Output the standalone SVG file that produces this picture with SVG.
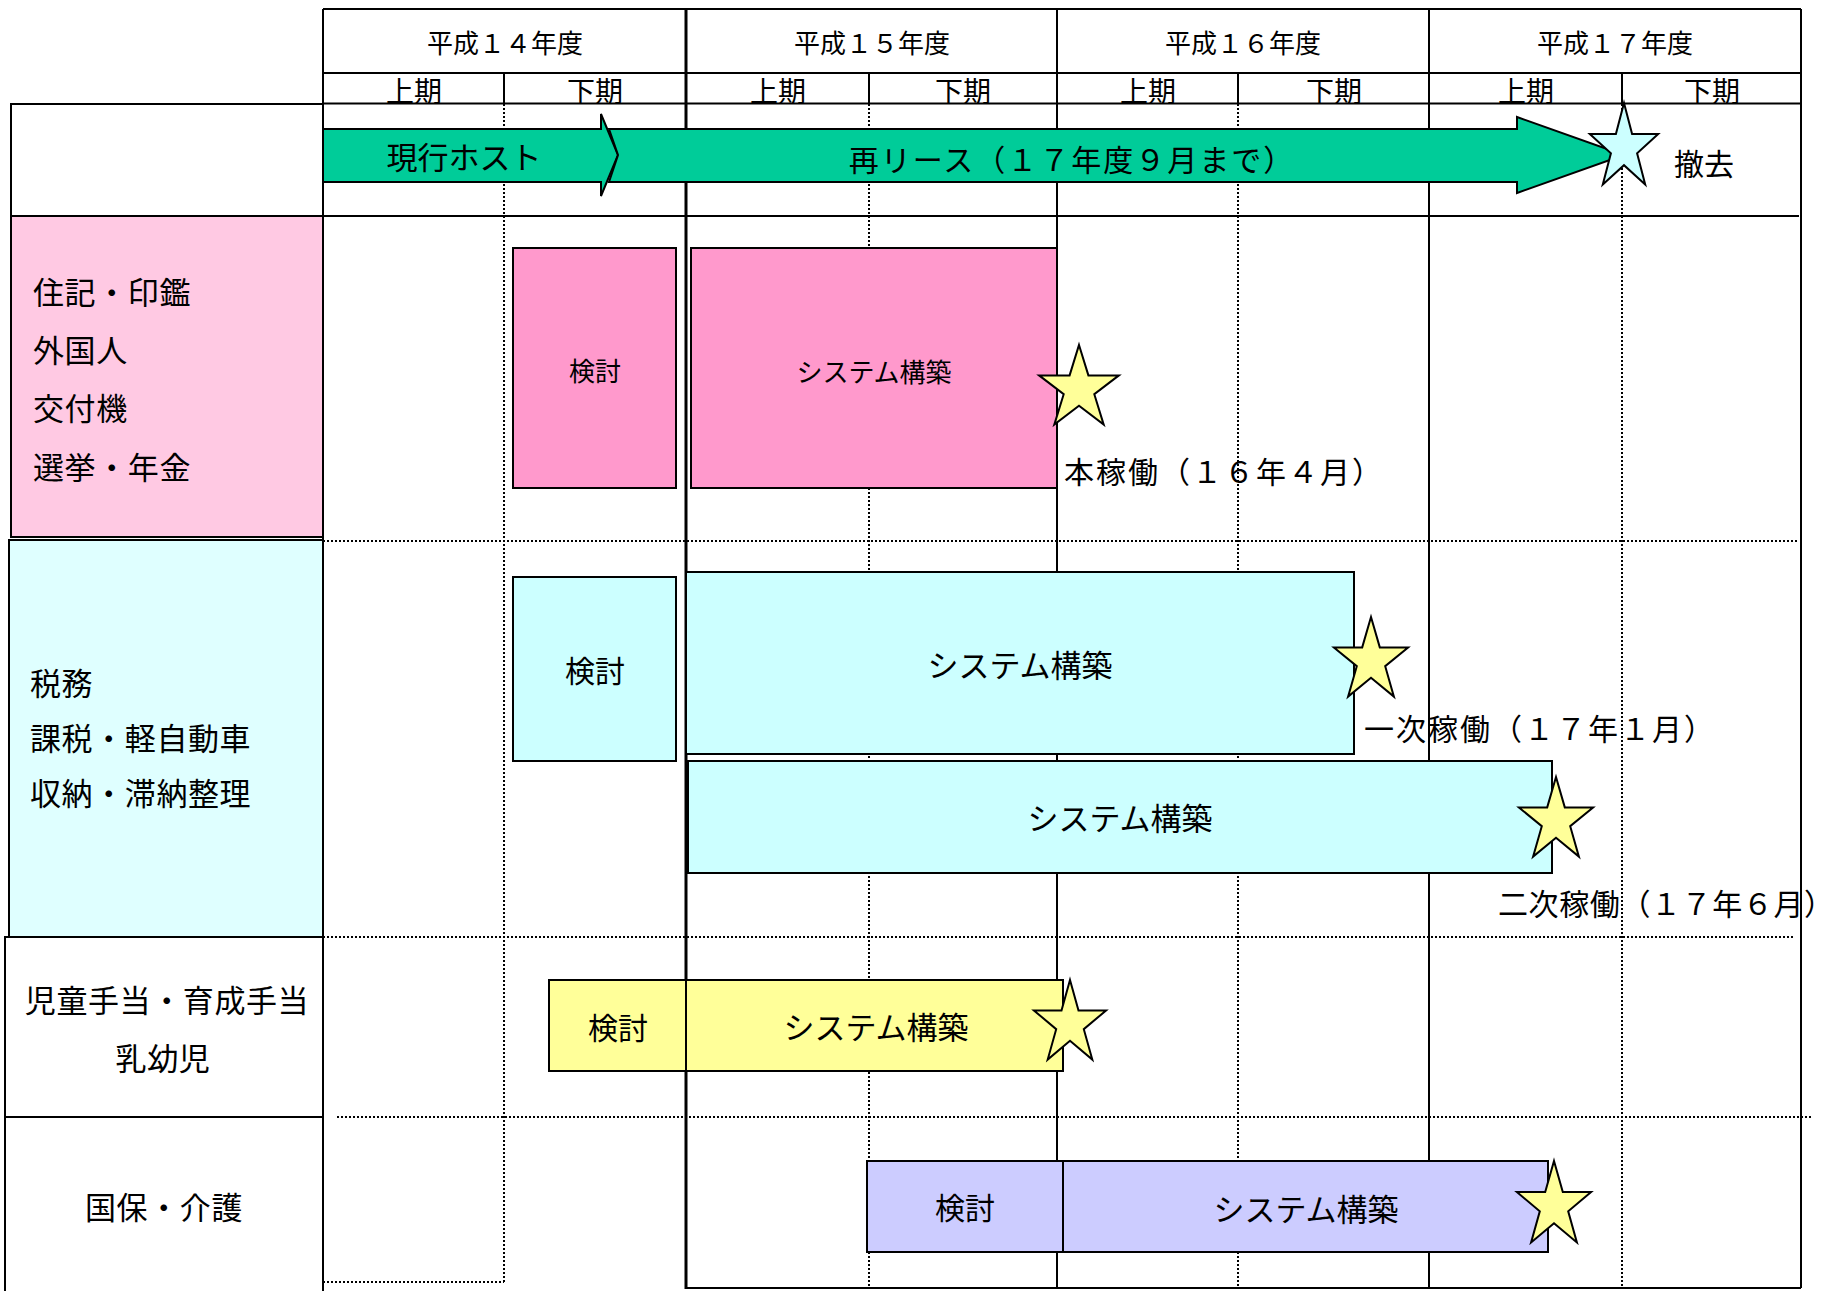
<svg xmlns="http://www.w3.org/2000/svg" width="1841" height="1291" viewBox="0 0 1841 1291">
<defs>
<style>
text{font-family:"Noto Sans CJK JP","Noto Sans CJK SC",sans-serif;fill:#000}
.s{stroke:#000;stroke-width:2;fill:none}
.d{stroke:#000;stroke-width:2;stroke-dasharray:2 2;fill:none}
.box{stroke:#000;stroke-width:2}
.star{stroke:#000;stroke-width:2;stroke-linejoin:miter}
.yr{font-size:26px;text-anchor:middle}
.hf{font-size:28px;text-anchor:middle}
.lb{font-size:31px;letter-spacing:0.6px}
.mid{text-anchor:middle}
.cap{font-size:30px;letter-spacing:2px}
</style>
<clipPath id="hclip"><rect x="323" y="73" width="1478" height="30"/></clipPath>
</defs>
<rect width="1841" height="1291" fill="#fff"/>

<g id="labels">
  <g id="label-host"><rect class="box" x="11" y="104" width="312" height="112" fill="#fff"/></g>
  <g id="label-juki">
    <rect class="box" x="11" y="216" width="312" height="321" fill="#FFC9E3"/>
    <text class="lb" x="33" y="304">住記・印鑑</text>
    <text class="lb" x="33" y="362">外国人</text>
    <text class="lb" x="33" y="420">交付機</text>
    <text class="lb" x="33" y="479">選挙・年金</text>
  </g>
  <g id="label-zeimu">
    <rect class="box" x="9" y="540" width="314" height="397" fill="#DFFFFF"/>
    <text class="lb" x="30" y="695">税務</text>
    <text class="lb" x="30" y="750">課税・軽自動車</text>
    <text class="lb" x="30" y="805">収納・滞納整理</text>
  </g>
  <g id="label-jido">
    <rect class="box" x="5" y="937" width="318" height="180" fill="#fff"/>
    <text class="lb mid" x="167" y="1012">児童手当・育成手当</text>
    <text class="lb mid" x="163" y="1070">乳幼児</text>
  </g>
  <g id="label-kokuho">
    <rect class="box" x="5" y="1117" width="318" height="180" fill="#fff"/>
    <text class="lb mid" x="164" y="1219">国保・介護</text>
  </g>
</g>

<g id="grid">
  <line class="s" x1="323" y1="9" x2="1801" y2="9"/>
  <line class="s" x1="323" y1="73" x2="1801" y2="73"/>
  <line class="s" x1="323" y1="9" x2="323" y2="1291"/>
  <line class="s" x1="1057" y1="9" x2="1057" y2="1288"/>
  <line class="s" x1="1429" y1="9" x2="1429" y2="1288"/>
  <line class="s" x1="1801" y1="9" x2="1801" y2="1288"/>
  <line class="s" x1="504" y1="73" x2="504" y2="104"/>
  <line class="s" x1="869" y1="73" x2="869" y2="104"/>
  <line class="s" x1="1238" y1="73" x2="1238" y2="104"/>
  <line class="s" x1="1622" y1="73" x2="1622" y2="104"/>
  <line class="d" x1="504" y1="104" x2="504" y2="1282"/>
  <line class="d" x1="869" y1="104" x2="869" y2="1288"/>
  <line class="d" x1="1238" y1="104" x2="1238" y2="1288"/>
  <line class="d" x1="1622" y1="104" x2="1622" y2="1288"/>
  <line class="d" x1="323" y1="1282" x2="504" y2="1282"/>
  <line class="s" x1="686" y1="1288" x2="1801" y2="1288"/>
  <line class="s" x1="11" y1="216" x2="1799" y2="216"/>
  <line class="d" x1="323" y1="541" x2="1797" y2="541"/>
  <line class="d" x1="323" y1="937" x2="1795" y2="937"/>
  <line class="d" x1="337" y1="1117" x2="1813" y2="1117"/>
  <line stroke="#000" stroke-width="3" x1="686" y1="9" x2="686" y2="1289"/>
</g>

<g id="header-text">
  <text class="yr" x="505" y="53">平成１４年度</text>
  <text class="yr" x="872" y="53">平成１５年度</text>
  <text class="yr" x="1243" y="53">平成１６年度</text>
  <text class="yr" x="1615" y="53">平成１７年度</text>
  <g clip-path="url(#hclip)">
    <text class="hf" x="414" y="102">上期</text>
    <text class="hf" x="595" y="102">下期</text>
    <text class="hf" x="778" y="102">上期</text>
    <text class="hf" x="963" y="102">下期</text>
    <text class="hf" x="1148" y="102">上期</text>
    <text class="hf" x="1334" y="102">下期</text>
    <text class="hf" x="1526" y="102">上期</text>
    <text class="hf" x="1712" y="102">下期</text>
  </g>
  <line class="s" x1="323" y1="103.5" x2="1801" y2="103.5"/>
  <line class="s" x1="11" y1="104" x2="323" y2="104"/>
</g>

<g id="connectors">
  <g id="arrow-host">
    <polygon points="323,129 601,129 601,114 618,155 601,196 601,182 323,182" fill="#00CC99" stroke="#000" stroke-width="2"/>
    <text x="464" y="169" font-size="31" text-anchor="middle">現行ホスト</text>
  </g>
  <g id="arrow-lease">
    <polygon points="609,129 1517,129 1517,117 1624,155 1517,193 1517,182 609,182 618,155" fill="#00CC99" stroke="#000" stroke-width="2"/>
    <text x="1072" y="171" font-size="30" letter-spacing="2" text-anchor="middle">再リース（１７年度９月まで）</text>
  </g>
</g>

<g id="bars">
  <g id="juki-kento">
    <rect class="box" x="513" y="248" width="163" height="240" fill="#FF99CC"/>
    <text x="595" y="381" font-size="26" text-anchor="middle">検討</text>
  </g>
  <g id="juki-build">
    <rect class="box" x="691" y="248" width="366" height="240" fill="#FF99CC"/>
    <text x="874" y="382" font-size="26" text-anchor="middle">システム構築</text>
  </g>
  <g id="zei-kento">
    <rect class="box" x="513" y="577" width="163" height="184" fill="#CCFFFF"/>
    <text x="595" y="682" font-size="30" text-anchor="middle">検討</text>
  </g>
  <g id="zei-build1">
    <rect class="box" x="686" y="572" width="668" height="182" fill="#CCFFFF"/>
    <text x="1020" y="677" font-size="31" text-anchor="middle">システム構築</text>
  </g>
  <g id="zei-build2">
    <rect class="box" x="688" y="761" width="864" height="112" fill="#CCFFFF"/>
    <text x="1120" y="830" font-size="31" text-anchor="middle">システム構築</text>
  </g>
  <g id="jido-kento">
    <rect class="box" x="549" y="980" width="137" height="91" fill="#FFFF99"/>
    <text x="618" y="1039" font-size="30" text-anchor="middle">検討</text>
  </g>
  <g id="jido-build">
    <rect class="box" x="686" y="980" width="377" height="91" fill="#FFFF99"/>
    <text x="876" y="1039" font-size="31" text-anchor="middle">システム構築</text>
  </g>
  <g id="kokuho-kento">
    <rect class="box" x="867" y="1161" width="196" height="91" fill="#CCCCFF"/>
    <text x="965" y="1219" font-size="30" text-anchor="middle">検討</text>
  </g>
  <g id="kokuho-build">
    <rect class="box" x="1063" y="1161" width="485" height="91" fill="#CCCCFF"/>
    <text x="1306" y="1221" font-size="31" text-anchor="middle">システム構築</text>
  </g>
</g>

<g id="milestones">
  <g id="ms-removal">
    <polygon class="star" fill="#CCFFFF" points="1624,103 1632.1,134.1 1658.2,134.1 1637.1,153.3 1645.2,184.4 1624,165.2 1602.8,184.4 1610.9,153.3 1589.8,134.1 1615.9,134.1"/>
    <text x="1674" y="175" font-size="30">撤去</text>
  </g>
  <g id="ms-juki">
    <polygon class="star" fill="#FFFF99" points="1079,345 1088.4,375.4 1118.9,375.4 1094.3,394.2 1103.7,424.6 1079,405.8 1054.3,424.6 1063.7,394.2 1039.1,375.4 1069.6,375.4"/>
    <text class="cap" x="1064" y="483">本稼働（１６年４月）</text>
  </g>
  <g id="ms-zei1">
    <polygon class="star" fill="#FFFF99" points="1371,617 1379.8,647.4 1408.1,647.4 1385.2,666.2 1393.9,696.6 1371,677.8 1348.1,696.6 1356.8,666.2 1333.9,647.4 1362.2,647.4"/>
    <text class="cap" x="1364" y="740">一次稼働（１７年１月）</text>
  </g>
  <g id="ms-zei2">
    <polygon class="star" fill="#FFFF99" points="1556,777 1564.8,807.4 1593.1,807.4 1570.2,826.2 1578.9,856.6 1556,837.8 1533.1,856.6 1541.8,826.2 1518.9,807.4 1547.2,807.4"/>
    <text x="1498" y="915" font-size="30" letter-spacing="0.6">二次稼働（１７年６月）</text>
  </g>
  <g id="ms-jido">
    <polygon class="star" fill="#FFFF99" points="1070,980 1078.5,1010.4 1106.1,1010.4 1083.8,1029.2 1092.3,1059.6 1070,1040.8 1047.7,1059.6 1056.2,1029.2 1033.9,1010.4 1061.5,1010.4"/>
  </g>
  <g id="ms-kokuho">
    <polygon class="star" fill="#FFFF99" points="1554,1161 1562.8,1192.1 1591.1,1192.1 1568.2,1211.3 1576.9,1242.4 1554,1223.2 1531.1,1242.4 1539.8,1211.3 1516.9,1192.1 1545.2,1192.1"/>
  </g>
</g>
</svg>
